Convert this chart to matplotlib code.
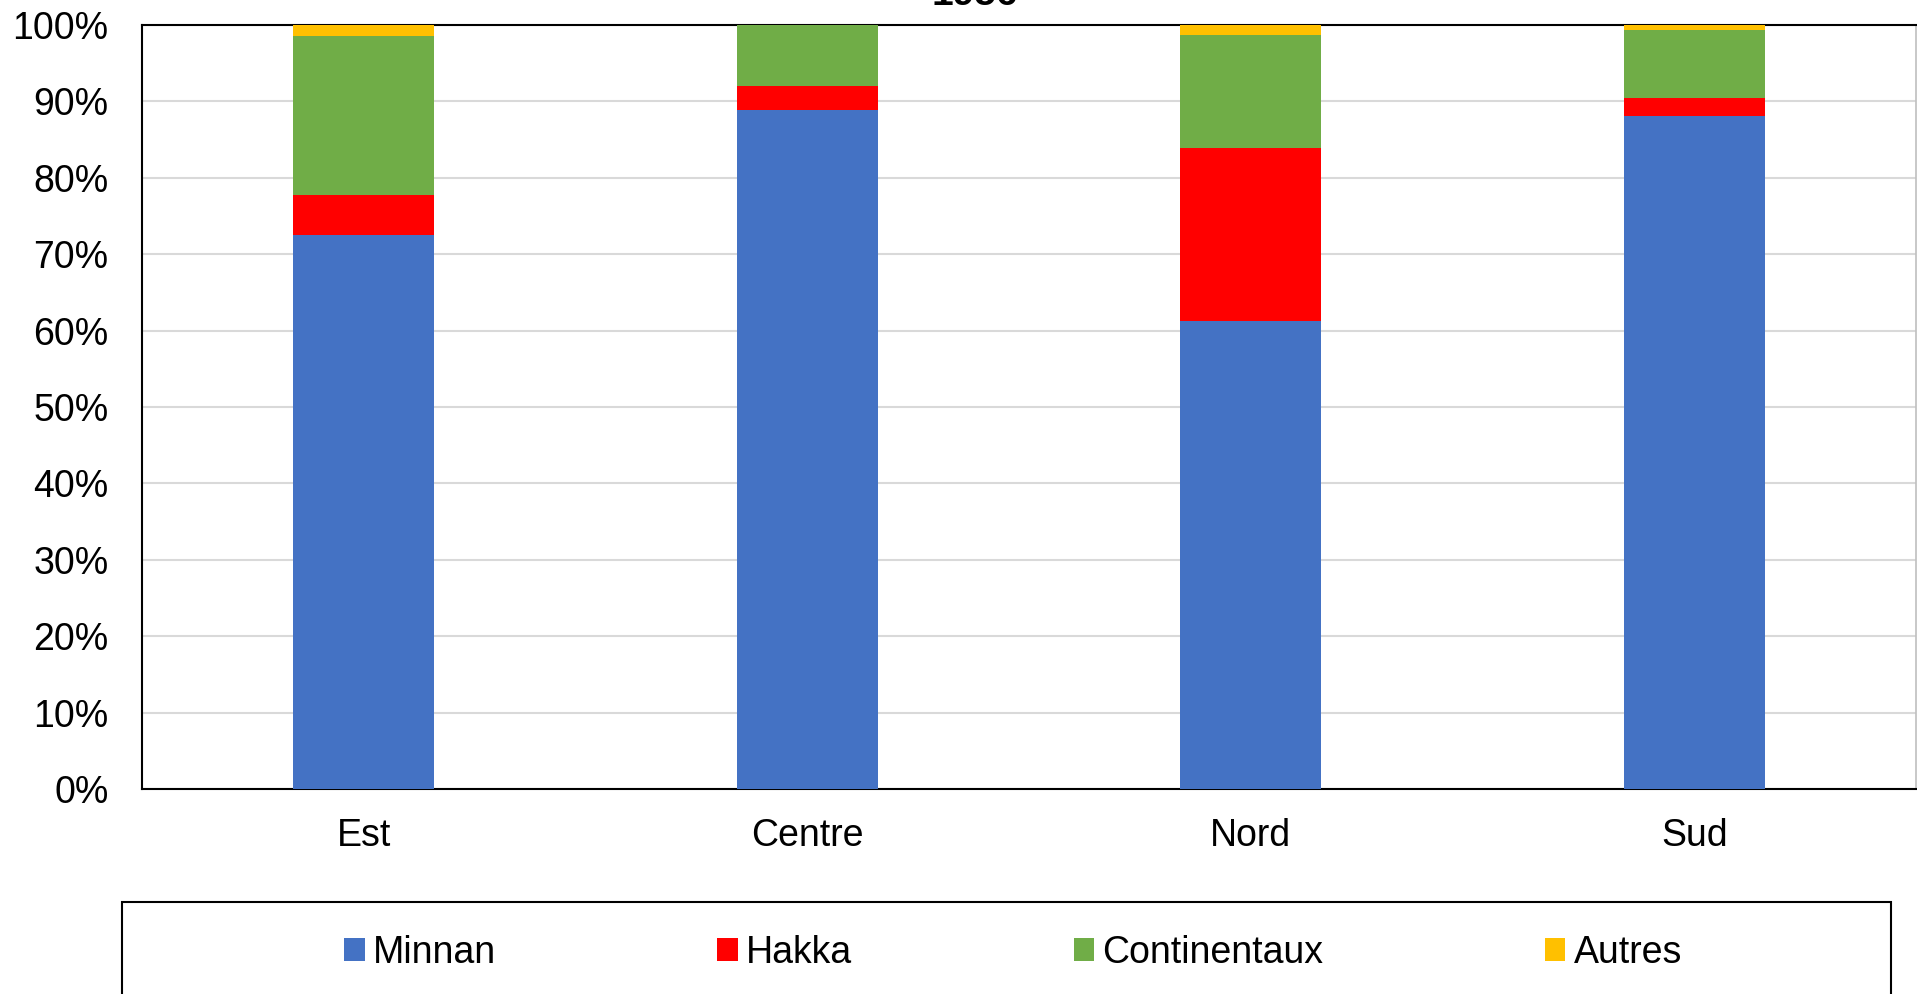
import matplotlib
matplotlib.use("Agg")
import matplotlib.pyplot as plt
from matplotlib.patches import Rectangle
import numpy as np

plt.rcParams['font.family'] = ['Liberation Sans', 'DejaVu Sans']

regions = ['Est', 'Centre', 'Nord', 'Sud']
minnan = [72.5, 88.9, 61.2, 88.1]
hakka = [5.2, 3.1, 22.7, 2.3]
continentaux = [20.8, 8.0, 14.8, 9.0]
autres = [1.5, 0.0, 1.3, 0.6]
series_names = ['Minnan', 'Hakka', 'Continentaux', 'Autres']
colors = ['#4472C4', '#FF0000', '#70AD47', '#FFC000']
title = '1956'

W, H = 1917, 994
fig = plt.figure(figsize=(W / 100, H / 100), dpi=100)
ax = fig.add_axes([142 / W, 1 - 789 / H, (1916 - 142) / W, (789 - 25) / H])

x = np.arange(len(regions))
bottom = np.zeros(len(regions))
for name, vals, col in zip(series_names, [minnan, hakka, continentaux, autres], colors):
    ax.bar(x, vals, width=0.317, bottom=bottom, color=col, label=name, zorder=3)
    bottom += np.array(vals)

ax.set_xlim(-0.5, 3.5)
ax.set_ylim(0, 100)
ax.set_yticks(np.arange(0, 101, 10))
ax.set_yticklabels([f'{v}%' for v in range(0, 101, 10)])
ax.set_xticks(x)
ax.set_xticklabels(regions)
ax.tick_params(axis='y', length=0, pad=24, labelsize=27)
ax.tick_params(axis='x', length=0, pad=21, labelsize=27)
ax.grid(axis='y', color='#D9D9D9', linewidth=1.5, zorder=0)
for s in ['left', 'bottom', 'top']:
    ax.spines[s].set_color('black')
    ax.spines[s].set_linewidth(1.5)
ax.spines['right'].set_color('#BFBFBF')
ax.spines['right'].set_linewidth(1.2)

# title sits mostly above the figure edge, as in the original export
fig.text(975 / W, 1 - 5 / H, title, ha='center', va='baseline',
         fontsize=28, fontweight='bold')

# legend box (runs off the bottom of the figure)
fig.patches.append(Rectangle((122 / W, -0.05), (1891 - 122) / W, 0.05 + (994 - 902) / H,
                             transform=fig.transFigure, fill=False,
                             edgecolor='black', linewidth=1.5))
fig.legend(loc='center', bbox_to_anchor=(1013 / W, 1 - 953 / H), ncol=4,
           frameon=False, fontsize=27, handlelength=0.55, handleheight=0.55,
           handletextpad=0.22, columnspacing=5.9)

fig.savefig('out.png', dpi=100)
